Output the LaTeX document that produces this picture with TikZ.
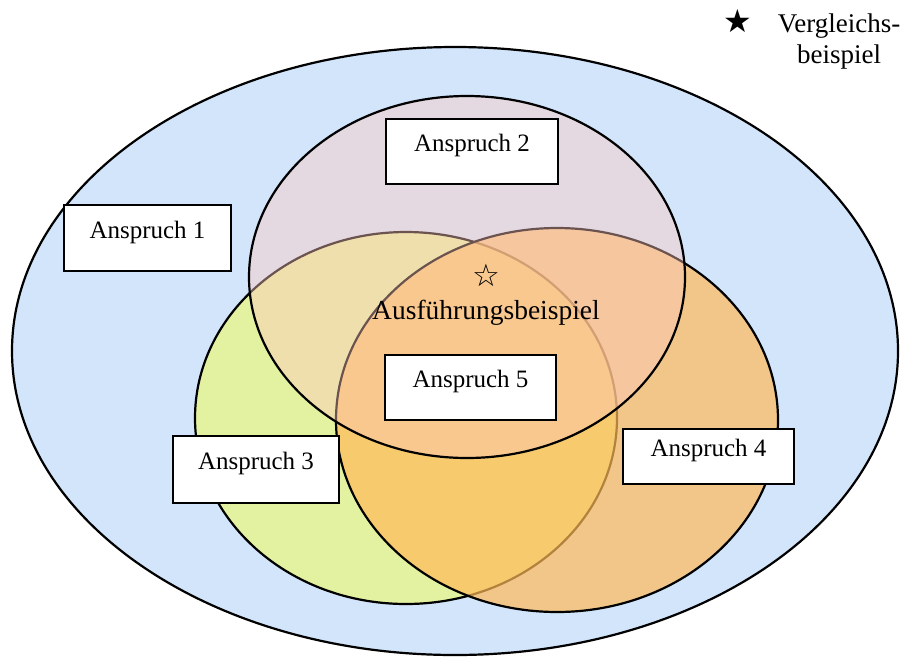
\documentclass[tikz,border=0pt]{standalone}
\usepackage{fontspec}
\setmainfont{Liberation Serif}
\newfontfamily\symfont{DejaVu Sans}
\definecolor{bgblue}{RGB}{210,229,251}
\definecolor{cpink}{RGB}{255,199,191}
\definecolor{cgreen}{RGB}{237,252,100}
\definecolor{corange}{RGB}{255,186,88}
\begin{document}
\begin{tikzpicture}[x=1pt,y=-1pt,
  region/.style={draw=black, line width=2.2pt},
  claimbox/.style={draw=black, line width=1.8pt, fill=white, rectangle, inner sep=0pt,
    text height=12pt, text depth=12pt, font=\fontsize{25}{30}\selectfont}]
\useasboundingbox (0,0) rectangle (910,670);
% regions
\draw[region, fill=bgblue] (455,351) ellipse [x radius=443pt, y radius=304pt];
\draw[region, fill=cgreen, fill opacity=0.6] (406,418) ellipse [x radius=211pt, y radius=186pt];
\draw[region, fill=corange, fill opacity=0.7] (557,420) ellipse [x radius=221pt, y radius=192pt];
\draw[region, fill=cpink, fill opacity=0.42] (467,277) ellipse [x radius=218pt, y radius=181pt];
% boxes
\node[claimbox, minimum width=167pt, minimum height=66pt] (a1) at (147.5,238) {Anspruch 1};
\node[claimbox, minimum width=172pt, minimum height=65pt] (a2) at (472,151.5) {Anspruch 2};
\node[claimbox, minimum width=171pt, minimum height=65pt] (a5) at (470.5,387.5) {Anspruch 5};
\node[claimbox, minimum width=166pt, minimum height=67pt] (a3) at (256,469.5) {Anspruch 3};
\node[claimbox, minimum width=171pt, minimum height=55pt] (a4) at (708.5,456.5) {Anspruch 4};
% example
\node[inner sep=0pt, font=\symfont\fontsize{31}{34}\selectfont] (star) at (486,275) {☆};
\node[inner sep=0pt, anchor=base, font=\fontsize{27.5}{30}\selectfont] (ausf) at (486,319) {Ausführungsbeispiel};
% legend
\node[inner sep=0pt, font=\symfont\fontsize{32}{34}\selectfont] (lstar) at (738,21) {★};
\node[inner sep=0pt, anchor=base, align=center, font=\fontsize{27}{31}\selectfont] (leg) at (839,63) {Vergleichs-\\beispiel};
\end{tikzpicture}
\end{document}
